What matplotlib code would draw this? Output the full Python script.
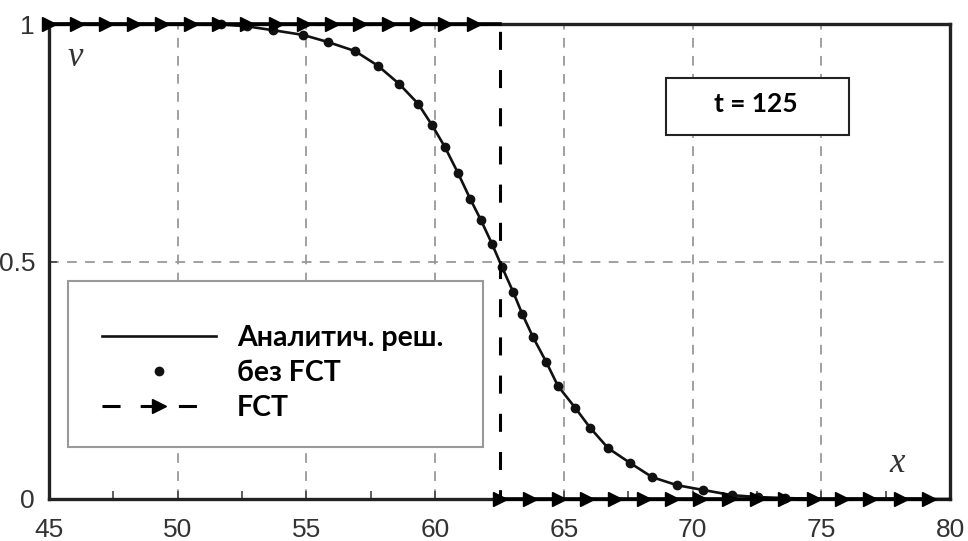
import numpy as np
import matplotlib.pyplot as plt
from matplotlib.patches import Rectangle

plt.rcParams['lines.scale_dashes'] = False

# analytic solution
exact_x = [45.0, 48.0, 50.0, 51.7, 52.7, 53.7, 54.87, 55.84, 56.89, 57.78, 58.6, 59.34, 59.88,
           60.38, 60.89, 61.36, 61.78, 62.21, 62.6, 63.03, 63.38, 63.8, 64.31, 64.77,
           65.44, 66.02, 66.72, 67.57, 68.43, 69.4, 70.41, 71.54, 72.55, 73.6, 75.0, 80.0]
exact_v = [1.0, 1.0, 1.0, 0.999, 0.995, 0.987, 0.977, 0.962, 0.943, 0.912, 0.874, 0.832, 0.787,
           0.741, 0.686, 0.632, 0.587, 0.537, 0.488, 0.436, 0.39, 0.341, 0.289, 0.238,
           0.192, 0.15, 0.107, 0.076, 0.046, 0.029, 0.019, 0.008, 0.004, 0.002, 0.0, 0.0]

# scheme without FCT
nofct_x = [51.7, 52.7, 53.7, 54.87, 55.84, 56.89, 57.78, 58.6, 59.34, 59.88, 60.38, 60.89,
           61.36, 61.78, 62.21, 62.6, 63.03, 63.38, 63.8, 64.31, 64.77, 65.44, 66.02,
           66.72, 67.57, 68.43, 69.4, 70.41, 71.54, 72.55, 73.6, 74.6]
nofct_v = [0.999, 0.995, 0.987, 0.977, 0.962, 0.943, 0.912, 0.874, 0.832, 0.787, 0.741, 0.686,
           0.632, 0.587, 0.537, 0.488, 0.436, 0.39, 0.341, 0.289, 0.238, 0.192, 0.15,
           0.107, 0.076, 0.046, 0.029, 0.019, 0.008, 0.004, 0.002, 0.001]

# scheme with FCT
fct_x = [45.0, 46.1, 47.2, 48.3, 49.4, 50.5, 51.6, 52.7, 53.8, 54.9, 56.0, 57.1, 58.2, 59.3,
         60.4, 61.5, 62.5, 62.5, 63.7, 64.8, 65.9, 67.0, 68.1, 69.2, 70.3, 71.4, 72.5,
         73.6, 74.7, 75.8, 76.9, 78.1, 79.2]
fct_v = [1, 1, 1, 1, 1, 1, 1, 1, 1, 1, 1, 1, 1, 1, 1, 1, 1,
         0, 0, 0, 0, 0, 0, 0, 0, 0, 0, 0, 0, 0, 0, 0, 0]

labels = ['Аналитич. реш.', 'без FCT', 'FCT']
W, H = 968, 541

fig = plt.figure(figsize=(W / 100, H / 100), dpi=100)
ax = fig.add_axes([49 / W, 1 - 499 / H, (950 - 49) / W, (499 - 24) / H])

ax.set_xlim(45, 80)
ax.set_ylim(0, 1)
ax.set_xticks([45, 50, 55, 60, 65, 70, 75, 80])
ax.set_xticks([47.5, 52.5, 57.5, 62.5, 67.5, 72.5, 77.5], minor=True)
ax.set_yticks([0, 0.5, 1])
ax.set_yticklabels(['0', '0.5', '1'])
ax.tick_params(which='both', direction='in', length=6, width=1.2, color='#444',
               labelsize=19, labelcolor='#333')
ax.tick_params(axis='x', pad=14)
ax.tick_params(axis='y', pad=10)
for lab in ax.get_xticklabels() + ax.get_yticklabels():
    lab.set_family(['Liberation Sans', 'DejaVu Sans'])

for s in ax.spines.values():
    s.set_linewidth(2.4)
    s.set_color('#222')

# grid only at inner positions
for gx in [50, 55, 60, 65, 70, 75]:
    ax.axvline(gx, color='#999', lw=1.3, dashes=(7, 6), zorder=0)
ax.axhline(0.5, color='#999', lw=1.3, dashes=(7, 6), zorder=0)

l1, = ax.plot(exact_x, exact_v, color='#111', lw=1.9, zorder=3, clip_on=False)
l2, = ax.plot(nofct_x, nofct_v, ls='none', marker='o', ms=6, color='#111', zorder=4,
              clip_on=False)
marks = [i for i in range(len(fct_x)) if i != 16]
l3, = ax.plot(fct_x, fct_v, color='black', lw=2.2, dashes=(13, 14.5), marker='>', ms=9.5,
              markevery=marks, zorder=5, clip_on=False)
# solid part along the border
ax.plot(fct_x[:17], fct_v[:17], color='black', lw=2.6, zorder=5, clip_on=False)
ax.plot(fct_x[17:], fct_v[17:], color='black', lw=2.6, zorder=5, clip_on=False)

ax.text(75 / W, 1 - 57 / H, 'v', transform=fig.transFigure, fontsize=25, style='italic',
        family='Liberation Serif', ha='center', va='center', color='#333')
ax.text(897 / W, 1 - 463 / H, 'x', transform=fig.transFigure, fontsize=25, style='italic',
        family='Liberation Serif', ha='center', va='center', color='#333')

# time box
fig.patches.append(Rectangle((666 / W, 1 - 135 / H), (849 - 666) / W, (135 - 78) / H,
                             transform=fig.transFigure, facecolor='white',
                             edgecolor='#222', lw=1.5, zorder=6))
fig.text(756 / W, 1 - 104 / H, 't = 125', fontsize=19, fontweight='bold',
         family=['Lato', 'DejaVu Sans'], ha='center', va='center', zorder=7)

# legend frame + entries
fig.patches.append(Rectangle((68 / W, 1 - 447 / H), (483 - 68) / W, (447 - 281) / H,
                             transform=fig.transFigure, facecolor='white',
                             edgecolor='#999', lw=1.5, zorder=6))
leg = ax.legend([l1, l2, l3], labels, loc='upper left', frameon=False,
                bbox_to_anchor=(102 / W, 1 - 325 / H), bbox_transform=fig.transFigure,
                borderpad=0, borderaxespad=0, handlelength=4.0, handletextpad=0.75,
                labelspacing=0.32, numpoints=1,
                prop={'family': ['Lato', 'DejaVu Sans'], 'weight': 'bold', 'size': 20.5})
leg.set_zorder(8)
leg.remove()
fig.add_artist(leg)

fig.savefig('out.png', dpi=100)
